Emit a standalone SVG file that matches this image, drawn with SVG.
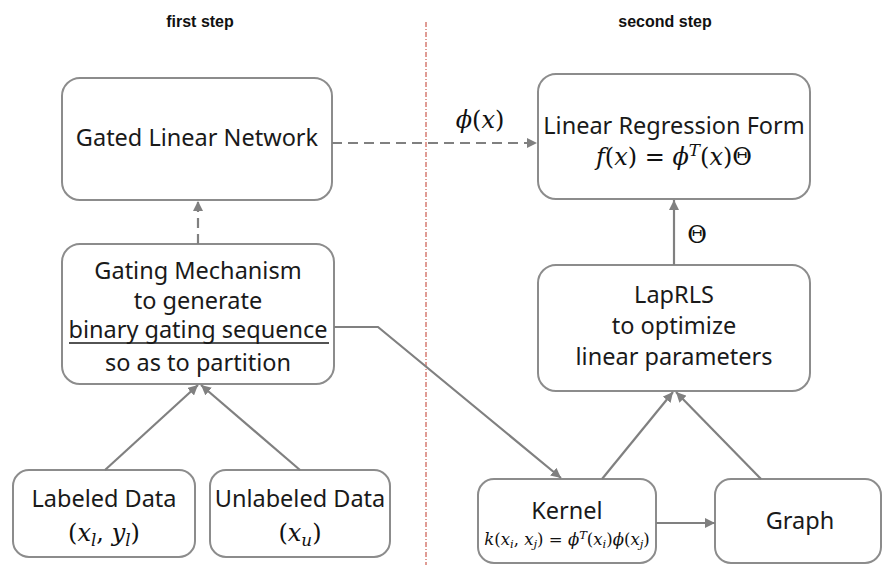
<svg xmlns="http://www.w3.org/2000/svg" width="884" height="565" viewBox="0 0 884 565">
  <defs>
    <marker id="tip" viewBox="0 0 10 10" refX="10" refY="5" markerWidth="10" markerHeight="10" markerUnits="userSpaceOnUse" orient="auto">
      <path d="M0,0 L10,5 L0,10 z" fill="#808080"/>
    </marker>
  </defs>
  <style>
    .box { fill: #ffffff; stroke: #8c8c8c; stroke-width: 2; }
    .lbl { font-family: "Noto Sans", "Open Sans", sans-serif; font-size: 23.5px; fill: #1a1a1a; text-anchor: middle; }
    .head { font-family: "Liberation Sans", Arial, sans-serif; font-size: 16px; font-weight: bold; fill: #111; text-anchor: middle; }
    .math { font-family: "DejaVu Serif", "Liberation Serif", serif; font-size: 24px; fill: #111; text-anchor: middle; }
    .i { font-style: italic; }
    .kmath { font-family: "DejaVu Serif", "Liberation Serif", serif; font-size: 16.5px; fill: #111; text-anchor: middle; }
    .sub { font-size: 0.7em; }
    .edge { fill: none; stroke: #808080; stroke-width: 2.2; marker-end: url(#tip); }
    .dash { stroke-dasharray: 10 6; }
    .divider { stroke: #c0392b; stroke-width: 1; stroke-dasharray: 5 2 1 2; fill: none; }
  </style>

  <!-- section headings and divider -->
  <text class="head" x="200" y="27">first step</text>
  <text class="head" x="665" y="27">second step</text>
  <line class="divider" x1="426" y1="22" x2="426" y2="565"/>

  <!-- nodes -->
  <g id="gln">
    <rect class="box" x="62" y="78" width="270" height="122" rx="18"/>
    <text class="lbl" x="197" y="146">Gated Linear Network</text>
  </g>

  <g id="lrf">
    <rect class="box" x="538" y="74" width="272" height="125" rx="18"/>
    <text class="lbl" x="674" y="134">Linear Regression Form</text>
    <text class="math" x="674" y="165"><tspan class="i">f</tspan>(<tspan class="i">x</tspan>) = <tspan class="i">ϕ</tspan><tspan class="i sub" dy="-9">T</tspan><tspan dy="9">(</tspan><tspan class="i">x</tspan>)Θ</text>
  </g>

  <g id="gating">
    <rect class="box" x="62" y="244" width="272" height="140" rx="18"/>
    <text class="lbl" x="198" y="279">Gating Mechanism</text>
    <text class="lbl" x="198" y="309">to generate</text>
    <text class="lbl" x="198" y="338">binary gating sequence</text>
    <line x1="69" y1="343" x2="329" y2="343" stroke="#1a1a1a" stroke-width="1.3"/>
    <text class="lbl" x="198" y="371">so as to partition</text>
  </g>

  <g id="laprls">
    <rect class="box" x="538" y="265" width="272" height="126" rx="18"/>
    <text class="lbl" x="674" y="303">LapRLS</text>
    <text class="lbl" x="674" y="334">to optimize</text>
    <text class="lbl" x="674" y="365">linear parameters</text>
  </g>

  <g id="labeled">
    <rect class="box" x="13" y="470" width="182" height="87" rx="16"/>
    <text class="lbl" x="104" y="507">Labeled Data</text>
    <text class="math" x="104" y="541">(<tspan class="i">x</tspan><tspan class="i sub" dy="5">l</tspan><tspan dy="-5">, </tspan><tspan class="i">y</tspan><tspan class="i sub" dy="5">l</tspan><tspan dy="-5">)</tspan></text>
  </g>

  <g id="unlabeled">
    <rect class="box" x="210" y="470" width="180" height="87" rx="16"/>
    <text class="lbl" x="300" y="507">Unlabeled Data</text>
    <text class="math" x="300" y="541">(<tspan class="i">x</tspan><tspan class="i sub" dy="5">u</tspan><tspan dy="-5">)</tspan></text>
  </g>

  <g id="kernel">
    <rect class="box" x="478" y="479" width="178" height="84" rx="16"/>
    <text class="lbl" x="567" y="519">Kernel</text>
    <text class="kmath" x="567" y="545"><tspan class="i">k</tspan>(<tspan class="i">x</tspan><tspan class="i sub" dy="3">i</tspan><tspan dy="-3">, </tspan><tspan class="i">x</tspan><tspan class="i sub" dy="3">j</tspan><tspan dy="-3">) = </tspan><tspan class="i">ϕ</tspan><tspan class="i sub" dy="-6">T</tspan><tspan dy="6">(</tspan><tspan class="i">x</tspan><tspan class="i sub" dy="3">i</tspan><tspan dy="-3">)</tspan><tspan class="i">ϕ</tspan>(<tspan class="i">x</tspan><tspan class="i sub" dy="3">j</tspan><tspan dy="-3">)</tspan></text>
  </g>

  <g id="graph">
    <rect class="box" x="715" y="479" width="166" height="84" rx="16"/>
    <text class="lbl" x="800" y="529">Graph</text>
  </g>

  <!-- connectors -->
  <g id="connectors">
    <line class="edge dash" x1="332" y1="143" x2="537" y2="143"/>
    <line class="edge dash" x1="198" y1="244" x2="198" y2="201"/>
    <line class="edge" x1="105" y1="470" x2="198" y2="385"/>
    <line class="edge" x1="300" y1="470" x2="201" y2="385"/>
    <polyline class="edge" points="334,327 378,327 561,478"/>
    <line class="edge" x1="656" y1="523" x2="715" y2="523"/>
    <line class="edge" x1="602" y1="479" x2="673" y2="392"/>
    <line class="edge" x1="761" y1="479" x2="676" y2="392"/>
    <line class="edge" x1="674" y1="265" x2="674" y2="200"/>
    <text class="math" x="480" y="128"><tspan class="i">ϕ</tspan>(<tspan class="i">x</tspan>)</text>
    <text class="math" x="697" y="243">Θ</text>
  </g>
</svg>
